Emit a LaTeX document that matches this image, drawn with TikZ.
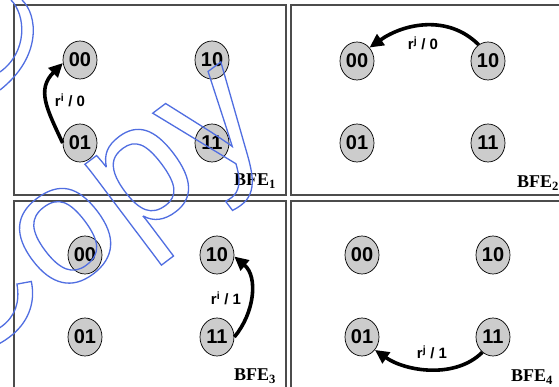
\documentclass[tikz,border=0pt]{standalone}
\usepackage{fontspec}
\setmainfont{Liberation Serif}
\setsansfont{Liberation Sans}
\usetikzlibrary{shapes.geometric,arrows.meta}
\definecolor{nodegray}{RGB}{204,204,204}
\definecolor{wmblue}{RGB}{80,110,225}
\begin{document}
\begin{tikzpicture}[x=1pt,y=1pt,
  panel/.style={draw=black!70, line width=1.4pt},
  st/.style={ellipse, draw=black, line width=0.7pt, fill=nodegray, minimum width=34pt, minimum height=38pt, inner sep=0pt, font=\sffamily\bfseries\fontsize{20}{20}\selectfont},
  tr/.style={line width=3.6pt, -{Triangle[length=14pt,width=13pt]}},
  lbl/.style={font=\sffamily\bfseries\fontsize{15}{15}\selectfont, inner sep=0pt},
  bfe/.style={font=\rmfamily\bfseries\fontsize{18}{18}\selectfont, inner sep=0pt},
  wmline/.style={draw=wmblue, line width=1.3pt}]
\useasboundingbox (0,0) rectangle (559,387);
\fill[white] (0,0) rectangle (559,387);
% panels
\draw[panel] (14,382) rectangle (286,192);
\draw[panel] (291,382) rectangle (565,192);
\draw[panel] (14,186) rectangle (286,-10);
\draw[panel] (291,186) rectangle (565,-10);
% panel 1
\node[st] (a00) at (80,327) {00};
\node[st] (a10) at (212,327) {10};
\node[st] (a01) at (80,244) {01};
\node[st] (a11) at (212,244) {11};
\node[bfe] (ba) at (255,206) {BFE\textsubscript{1}};
\draw[tr] (a01.west) to[out=115,in=225,looseness=1.2] (a00.190);
\node[lbl] (la) at (70,287) {r\textsuperscript{i} / 0};
% panel 2
\node[st] (b00) at (357,326) {00};
\node[st] (b10) at (488,326) {10};
\node[st] (b01) at (357,244) {01};
\node[st] (b11) at (488,244) {11};
\node[bfe] (bb) at (538,204) {BFE\textsubscript{2}};
\draw[tr] (b10.120) to[out=135,in=35] (b00.47);
\node[lbl] (lb) at (423,344) {r\textsuperscript{j} / 0};
% panel 3
\node[st] (c00) at (85,132) {00};
\node[st] (c10) at (217,132) {10};
\node[st] (c01) at (85,50) {01};
\node[st] (c11) at (217,50) {11};
\node[bfe] (bc) at (255,11) {BFE\textsubscript{3}};
\draw[tr] (c11.east) to[out=50,in=-40] (c10.-5);
\node[lbl] (lc) at (226,89) {r\textsuperscript{i} / 1};
% panel 4
\node[st] (d00) at (362,132) {00};
\node[st] (d10) at (493,132) {10};
\node[st] (d01) at (362,50) {01};
\node[st] (d11) at (493,50) {11};
\node[bfe] (bd) at (532,10) {BFE\textsubscript{4}};
\draw[tr] (d11.235) to[out=225,in=-35,looseness=0.9] (d01.-45);
\node[lbl] (ld) at (432,35) {r\textsuperscript{j} / 1};
% watermark
\node[rotate=37, anchor=base west, text=wmblue, inner sep=0pt, font=\sffamily\fontsize{172}{172}\selectfont] (wm) at (-45,11) {\special{pdf:code q 1 Tr 1.3 w}Copy\special{pdf:code Q}};
\draw[wmline] (22,387) .. controls (38,372) and (42,330) .. (0,297);
\draw[wmline] (11,387) .. controls (26,372) and (28,335) .. (0,315);
\end{tikzpicture}
\end{document}
